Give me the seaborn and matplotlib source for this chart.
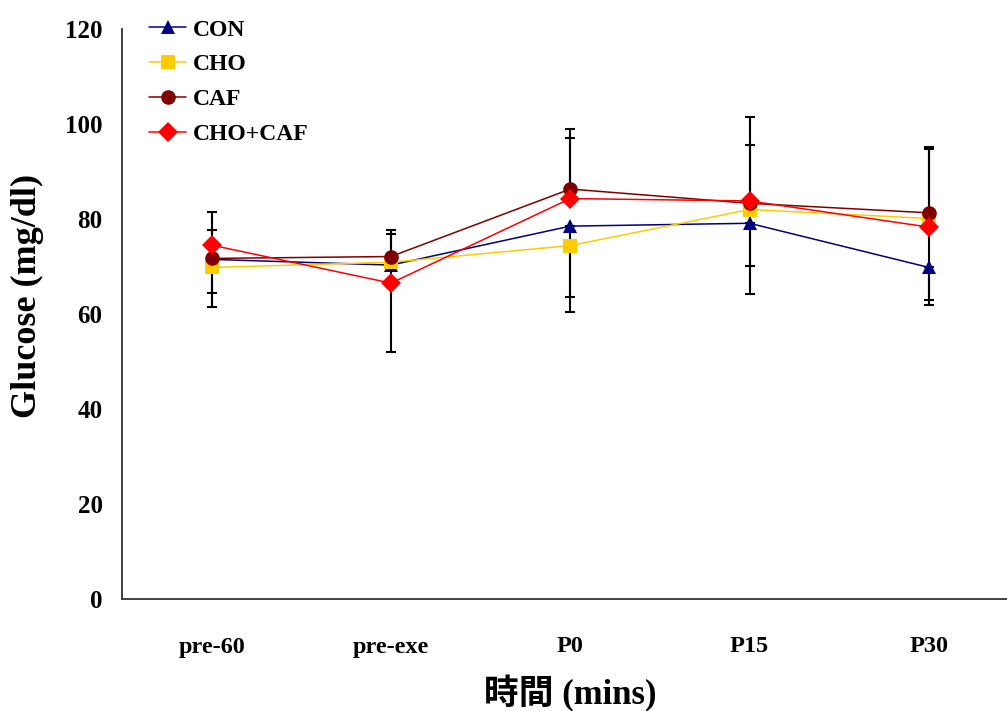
import numpy as np
import pandas as pd
import matplotlib.pyplot as plt
import seaborn as sns

times = ['pre-60', 'pre-exe', 'P0', 'P15', 'P30']
groups = ['CON', 'CHO', 'CAF', 'CHO+CAF']

con = [71.5, 70.3, 78.5, 79.1, 69.8]
cho = [69.8, 70.9, 74.4, 82.0, 80.1]
caf = [71.7, 72.1, 86.3, 83.3, 81.3]
cho_caf = [74.5, 66.5, 84.3, 83.8, 78.3]

# error bars drawn one way only: + means up, - means down
con_err = [-10.0, -3.8, -15.0, -14.9, -6.9]
cho_err = [-5.4, 5.9, -13.9, -11.9, 14.6]
caf_err = [6.0, 5.6, 12.6, 18.2, 13.8]
cho_caf_err = [7.0, -14.4, 12.7, 11.8, -16.4]

colors = {'CON': '#000080', 'CHO': '#FFCC00', 'CAF': '#800000', 'CHO+CAF': '#FF0000'}
markers = {'CON': '^', 'CHO': 's', 'CAF': 'o', 'CHO+CAF': 'D'}

values = {'CON': con, 'CHO': cho, 'CAF': caf, 'CHO+CAF': cho_caf}
errors = {'CON': con_err, 'CHO': cho_err, 'CAF': caf_err, 'CHO+CAF': cho_caf_err}

rows = []
for g in groups:
    for t, v in zip(times, values[g]):
        rows.append({'time': t, 'group': g, 'glucose': v})
df = pd.DataFrame(rows)

sns.set_style('white')
plt.rcParams['font.family'] = ['Liberation Serif', 'Noto Sans CJK TC']
plt.rcParams['font.weight'] = 'bold'
plt.rcParams['text.color'] = 'black'
plt.rcParams['axes.labelcolor'] = 'black'
plt.rcParams['xtick.color'] = 'black'
plt.rcParams['ytick.color'] = 'black'

fig = plt.figure(figsize=(10.07, 7.11), dpi=100)
ax = fig.add_axes([122 / 1007, 1 - 599 / 711, 896.5 / 1007, 570 / 711])

x = np.arange(len(times))
for g in groups:
    e = np.array(errors[g])
    lower = np.where(e < 0, -e, 0)
    upper = np.where(e > 0, e, 0)
    ax.errorbar(x, values[g], yerr=[lower, upper], fmt='none', ecolor='black',
                elinewidth=1.5, capsize=3.8, capthick=1.5, zorder=1)

sns.lineplot(data=df, x='time', y='glucose', hue='group', style='group',
             hue_order=groups, style_order=groups, palette=colors,
             markers=markers, dashes=False, markersize=10.5, linewidth=1.1,
             markeredgewidth=0, sort=False, ax=ax, zorder=3)

ax.set_xlim(-0.5, 4.5)
ax.set_ylim(0, 120)
ax.set_yticks(range(0, 121, 20))
ax.set_xticks(x)
ax.set_xticklabels(times)
ax.set_xticks([0.5, 1.5, 2.5, 3.5], minor=True)
ax.tick_params(axis='x', which='major', length=0, pad=27, labelsize=17.5)
ax.tick_params(axis='x', which='minor', length=8, width=0.8, direction='in', color='#404040')
ax.tick_params(axis='y', length=6, width=0.8, direction='in', labelsize=18, pad=14, color='#404040')
for lab in ax.get_xticklabels() + ax.get_yticklabels():
    lab.set_fontweight('bold')

for s in ['top', 'right']:
    ax.spines[s].set_visible(False)
for s in ['left', 'bottom']:
    ax.spines[s].set_color('#333333')
    ax.spines[s].set_linewidth(1.3)

ax.set_ylabel('Glucose (mg/dl)', fontsize=26, fontweight='bold', va='center', ha='center')
ax.yaxis.set_label_coords(-0.105, 0.531)
ax.set_xlabel('時間 (mins)', fontsize=25, fontweight='bold', va='center', ha='center')
ax.xaxis.set_label_coords(0.5, -0.166)

leg = ax.legend(loc='upper left', bbox_to_anchor=(0.02, 1.034), frameon=False,
                fontsize=17, handlelength=1.55, labelspacing=0.56,
                handletextpad=0.3, borderaxespad=0)
for t in leg.get_texts():
    t.set_fontweight('bold')

plt.savefig('out.png', dpi=100)
